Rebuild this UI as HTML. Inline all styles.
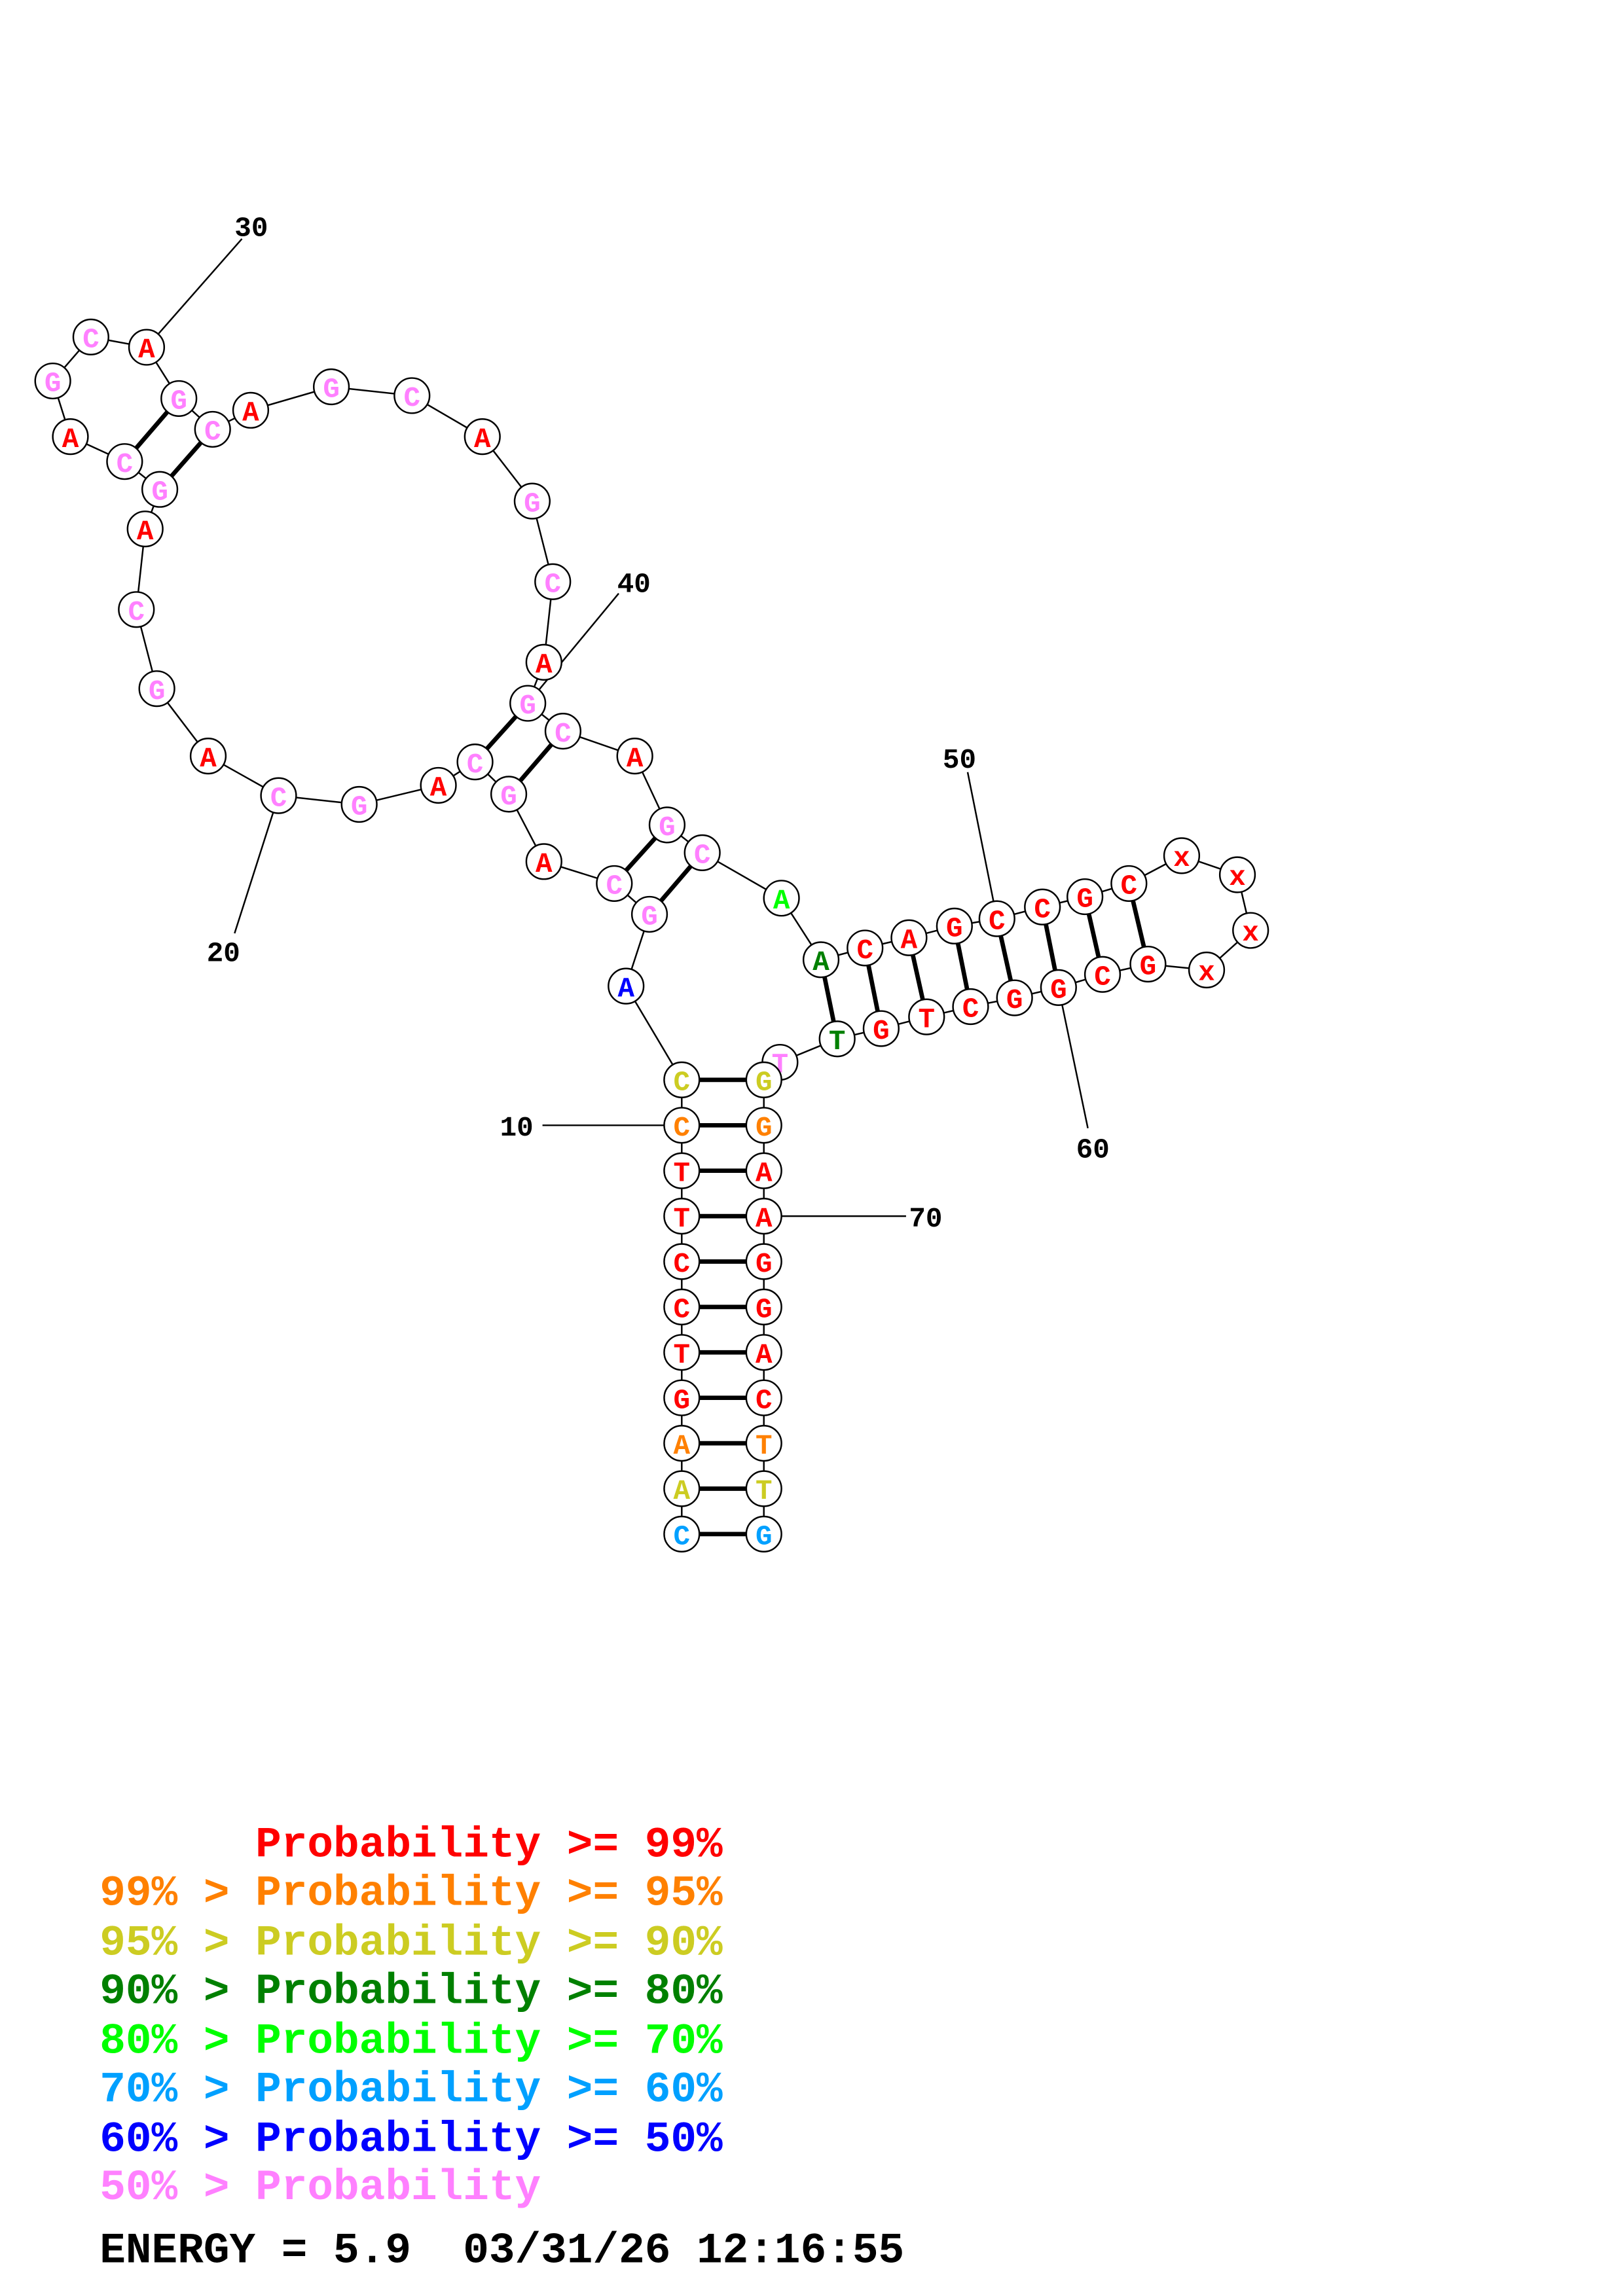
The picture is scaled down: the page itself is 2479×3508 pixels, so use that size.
<!DOCTYPE html>
<html><head><meta charset="utf-8"><style>html,body{margin:0;padding:0;background:#fff}svg{display:block}text{white-space:pre}</style></head><body>
<svg xmlns="http://www.w3.org/2000/svg" width="2479" height="3508" viewBox="0 0 1107 1567" preserveAspectRatio="none">
<g stroke="#000" stroke-width="1.1" fill="none">
<polyline points="465,1047 465,1016 465,985 465,954 465,923 465,892 465,861 465,830 465,799 465,768 465,737 427,673 443,624 419,603 371,588 347,542 324,520 299,536 245,549 190,543 142,516 107,470 93,416 99,361 109,334 85,315 48,298 36,260 62,230 100,237 122,272 145,293 171,280 226,264 281,270 329,298 363,342 377,397 371,452 360,480 384,499 433,516 455,563 479,582 533,613 560,655 590,647 620,640 651,632 680,627 711,619 740,612 770,603 806,584 844,597 853,635 823,662 783,658 752,665 722,674 692,681 662,687 632,694 601,702 571,709 532,725 521,737 521,768 521,799 521,830 521,861 521,892 521,923 521,954 521,985 521,1016 521,1047"/>
<line x1="100" y1="237" x2="165" y2="163"/>
<line x1="360" y1="480" x2="422" y2="405"/>
<line x1="190" y1="543" x2="160" y2="637"/>
<line x1="680" y1="627" x2="660" y2="527"/>
<line x1="722" y1="674" x2="742" y2="770"/>
<line x1="465" y1="768" x2="370" y2="768"/>
<line x1="521" y1="830" x2="618" y2="830"/>
</g>
<g stroke="#000" stroke-width="3">
<line x1="465" y1="1047" x2="521" y2="1047"/><line x1="465" y1="1016" x2="521" y2="1016"/><line x1="465" y1="985" x2="521" y2="985"/><line x1="465" y1="954" x2="521" y2="954"/><line x1="465" y1="923" x2="521" y2="923"/><line x1="465" y1="892" x2="521" y2="892"/><line x1="465" y1="861" x2="521" y2="861"/><line x1="465" y1="830" x2="521" y2="830"/><line x1="465" y1="799" x2="521" y2="799"/><line x1="465" y1="768" x2="521" y2="768"/><line x1="465" y1="737" x2="521" y2="737"/>
<line x1="443" y1="624" x2="479" y2="582"/><line x1="419" y1="603" x2="455" y2="563"/>
<line x1="347" y1="542" x2="384" y2="499"/><line x1="324" y1="520" x2="360" y2="480"/>
<line x1="109" y1="334" x2="145" y2="293"/><line x1="85" y1="315" x2="122" y2="272"/>
<line x1="560" y1="655" x2="571" y2="709"/><line x1="590" y1="647" x2="601" y2="702"/><line x1="620" y1="640" x2="632" y2="694"/><line x1="651" y1="632" x2="662" y2="687"/><line x1="680" y1="627" x2="692" y2="681"/><line x1="711" y1="619" x2="722" y2="674"/><line x1="740" y1="612" x2="752" y2="665"/><line x1="770" y1="603" x2="783" y2="658"/>
</g>
<g font-family="'Liberation Mono',monospace" font-weight="bold" font-size="19" text-anchor="middle" stroke="#000" stroke-width="1.1">
<g fill="#fff">
<circle cx="465" cy="1047" r="12"/><circle cx="465" cy="1016" r="12"/><circle cx="465" cy="985" r="12"/><circle cx="465" cy="954" r="12"/><circle cx="465" cy="923" r="12"/><circle cx="465" cy="892" r="12"/><circle cx="465" cy="861" r="12"/><circle cx="465" cy="830" r="12"/><circle cx="465" cy="799" r="12"/><circle cx="465" cy="768" r="12"/><circle cx="465" cy="737" r="12"/>
<circle cx="427" cy="673" r="12"/><circle cx="443" cy="624" r="12"/><circle cx="419" cy="603" r="12"/><circle cx="371" cy="588" r="12"/><circle cx="347" cy="542" r="12"/><circle cx="324" cy="520" r="12"/><circle cx="299" cy="536" r="12"/><circle cx="245" cy="549" r="12"/><circle cx="190" cy="543" r="12"/><circle cx="142" cy="516" r="12"/><circle cx="107" cy="470" r="12"/><circle cx="93" cy="416" r="12"/><circle cx="99" cy="361" r="12"/><circle cx="109" cy="334" r="12"/><circle cx="85" cy="315" r="12"/><circle cx="48" cy="298" r="12"/><circle cx="36" cy="260" r="12"/><circle cx="62" cy="230" r="12"/><circle cx="100" cy="237" r="12"/><circle cx="122" cy="272" r="12"/><circle cx="145" cy="293" r="12"/><circle cx="171" cy="280" r="12"/><circle cx="226" cy="264" r="12"/><circle cx="281" cy="270" r="12"/><circle cx="329" cy="298" r="12"/><circle cx="363" cy="342" r="12"/><circle cx="377" cy="397" r="12"/><circle cx="371" cy="452" r="12"/><circle cx="360" cy="480" r="12"/><circle cx="384" cy="499" r="12"/><circle cx="433" cy="516" r="12"/><circle cx="455" cy="563" r="12"/><circle cx="479" cy="582" r="12"/><circle cx="533" cy="613" r="12"/><circle cx="560" cy="655" r="12"/><circle cx="590" cy="647" r="12"/><circle cx="620" cy="640" r="12"/><circle cx="651" cy="632" r="12"/><circle cx="680" cy="627" r="12"/><circle cx="711" cy="619" r="12"/><circle cx="740" cy="612" r="12"/><circle cx="770" cy="603" r="12"/><circle cx="806" cy="584" r="12"/><circle cx="844" cy="597" r="12"/><circle cx="853" cy="635" r="12"/><circle cx="823" cy="662" r="12"/><circle cx="783" cy="658" r="12"/><circle cx="752" cy="665" r="12"/><circle cx="722" cy="674" r="12"/><circle cx="692" cy="681" r="12"/><circle cx="662" cy="687" r="12"/><circle cx="632" cy="694" r="12"/><circle cx="601" cy="702" r="12"/><circle cx="571" cy="709" r="12"/><circle cx="532" cy="725" r="12"/>
</g>
<text x="532" y="732" fill="#ff80ff" stroke="none">T</text>
<g fill="#fff"><circle cx="521" cy="737" r="12"/><circle cx="521" cy="768" r="12"/><circle cx="521" cy="799" r="12"/><circle cx="521" cy="830" r="12"/><circle cx="521" cy="861" r="12"/><circle cx="521" cy="892" r="12"/><circle cx="521" cy="923" r="12"/><circle cx="521" cy="954" r="12"/><circle cx="521" cy="985" r="12"/><circle cx="521" cy="1016" r="12"/><circle cx="521" cy="1047" r="12"/></g>
<g stroke="none">
<text x="465" y="1054" fill="#00a0ff">C</text><text x="465" y="1023" fill="#cccc22">A</text><text x="465" y="992" fill="#ff8000">A</text><text x="465" y="961" fill="red">G</text><text x="465" y="930" fill="red">T</text><text x="465" y="899" fill="red">C</text><text x="465" y="868" fill="red">C</text><text x="465" y="837" fill="red">T</text><text x="465" y="806" fill="red">T</text><text x="465" y="775" fill="#ff8000">C</text><text x="465" y="744" fill="#cccc22">C</text>
<text x="427" y="680" fill="#0000ff">A</text><text x="443" y="631" fill="#ff80ff">G</text><text x="419" y="610" fill="#ff80ff">C</text><text x="371" y="595" fill="red">A</text><text x="347" y="549" fill="#ff80ff">G</text><text x="324" y="527" fill="#ff80ff">C</text><text x="299" y="543" fill="red">A</text><text x="245" y="556" fill="#ff80ff">G</text><text x="190" y="550" fill="#ff80ff">C</text><text x="142" y="523" fill="red">A</text><text x="107" y="477" fill="#ff80ff">G</text><text x="93" y="423" fill="#ff80ff">C</text><text x="99" y="368" fill="red">A</text><text x="109" y="341" fill="#ff80ff">G</text><text x="85" y="322" fill="#ff80ff">C</text><text x="48" y="305" fill="red">A</text><text x="36" y="267" fill="#ff80ff">G</text><text x="62" y="237" fill="#ff80ff">C</text><text x="100" y="244" fill="red">A</text><text x="122" y="279" fill="#ff80ff">G</text><text x="145" y="300" fill="#ff80ff">C</text><text x="171" y="287" fill="red">A</text><text x="226" y="271" fill="#ff80ff">G</text><text x="281" y="277" fill="#ff80ff">C</text><text x="329" y="305" fill="red">A</text><text x="363" y="349" fill="#ff80ff">G</text><text x="377" y="404" fill="#ff80ff">C</text><text x="371" y="459" fill="red">A</text><text x="360" y="487" fill="#ff80ff">G</text><text x="384" y="506" fill="#ff80ff">C</text><text x="433" y="523" fill="red">A</text><text x="455" y="570" fill="#ff80ff">G</text><text x="479" y="589" fill="#ff80ff">C</text>
<text x="533" y="620" fill="#00ff00">A</text><text x="560" y="662" fill="#008000">A</text><text x="590" y="654" fill="red">C</text><text x="620" y="647" fill="red">A</text><text x="651" y="639" fill="red">G</text><text x="680" y="634" fill="red">C</text><text x="711" y="626" fill="red">C</text><text x="740" y="619" fill="red">G</text><text x="770" y="610" fill="red">C</text><text x="806" y="591" fill="red">x</text><text x="844" y="604" fill="red">x</text><text x="853" y="642" fill="red">x</text><text x="823" y="669" fill="red">x</text><text x="783" y="665" fill="red">G</text><text x="752" y="672" fill="red">C</text><text x="722" y="681" fill="red">G</text><text x="692" y="688" fill="red">G</text><text x="662" y="694" fill="red">C</text><text x="632" y="701" fill="red">T</text><text x="601" y="709" fill="red">G</text><text x="571" y="716" fill="#008000">T</text>
<text x="521" y="744" fill="#cccc22">G</text><text x="521" y="775" fill="#ff8000">G</text><text x="521" y="806" fill="red">A</text><text x="521" y="837" fill="red">A</text><text x="521" y="868" fill="red">G</text><text x="521" y="899" fill="red">G</text><text x="521" y="930" fill="red">A</text><text x="521" y="961" fill="red">C</text><text x="521" y="992" fill="#ff8000">T</text><text x="521" y="1023" fill="#cccc22">T</text><text x="521" y="1054" fill="#00a0ff">G</text>
</g>
</g>
<g font-family="'Liberation Mono',monospace" font-weight="bold" font-size="19" fill="#000">
<text x="160" y="161">30</text><text x="421" y="404">40</text><text x="141" y="656">20</text><text x="643" y="524">50</text><text x="734" y="790">60</text><text x="341" y="775">10</text><text x="620" y="837">70</text>
</g>
<g font-family="'Liberation Mono',monospace" font-weight="bold" font-size="29.5">
<text x="68" y="1267" fill="red">      Probability &gt;= 99%</text>
<text x="68" y="1300" fill="#ff8000">99% &gt; Probability &gt;= 95%</text>
<text x="68" y="1334" fill="#cccc22">95% &gt; Probability &gt;= 90%</text>
<text x="68" y="1367" fill="#008000">90% &gt; Probability &gt;= 80%</text>
<text x="68" y="1401" fill="#00ff00">80% &gt; Probability &gt;= 70%</text>
<text x="68" y="1434" fill="#00a0ff">70% &gt; Probability &gt;= 60%</text>
<text x="68" y="1468" fill="#0000ff">60% &gt; Probability &gt;= 50%</text>
<text x="68" y="1501" fill="#ff80ff">50% &gt; Probability</text>
<text x="68" y="1544" fill="#000">ENERGY = 5.9  03/31/26 12:16:55</text>
</g>
</svg>
</body></html>
